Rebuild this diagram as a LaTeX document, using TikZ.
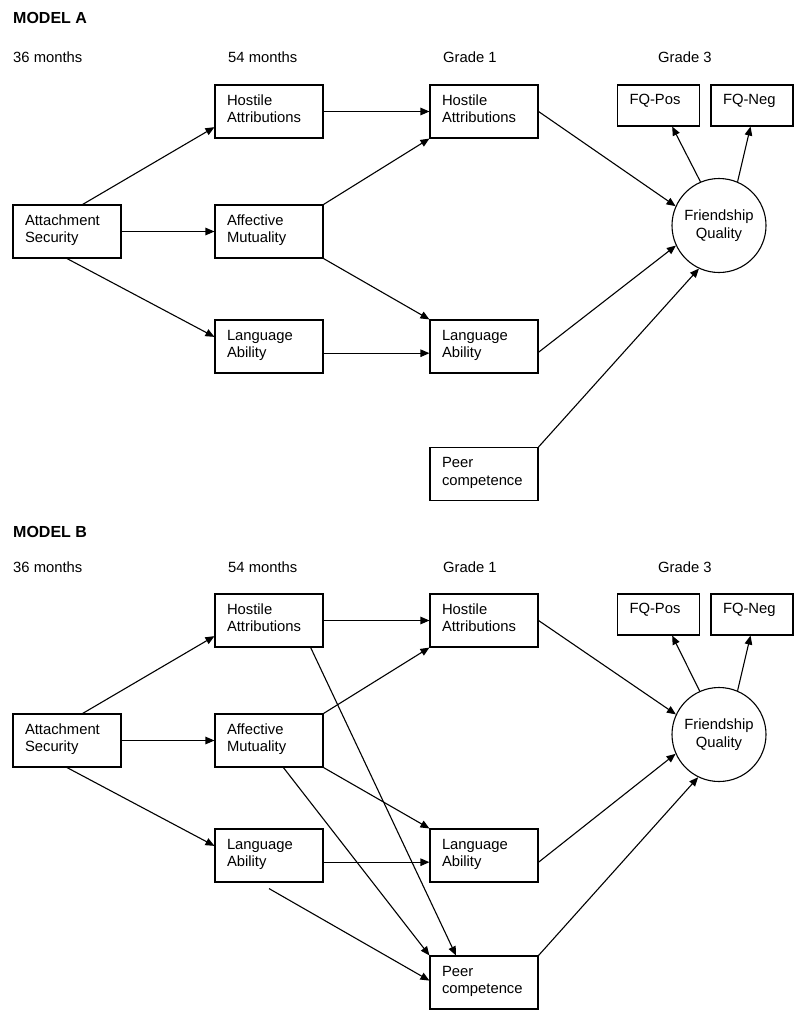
\documentclass[tikz,border=0pt]{standalone}
\usepackage{fontspec}
\setmainfont{Liberation Sans}
\usepackage{tikz}
\usetikzlibrary{arrows.meta,calc}

\begin{document}
\begin{tikzpicture}[x=1pt,y=-1pt]
    \tikzstyle{every node}+=[font=\fontsize{14.8}{17.5}\selectfont]
    \tikzstyle{hd}=[anchor=base west, inner sep=0pt]
    \tikzstyle{ttl}=[hd, font=\fontsize{16}{19}\selectfont\bfseries]
    \tikzstyle{box}=[draw, line width=1.1pt, minimum width=108pt, minimum height=53pt, text width=84pt, inner xsep=12pt, inner ysep=0pt, align=left, text height=11pt, text depth=23.5pt]
    \tikzstyle{fqbox}=[draw, line width=1.1pt, minimum width=82pt, minimum height=41pt, text width=58pt, inner xsep=12pt, inner ysep=0pt, align=left, text height=11pt, text depth=14pt]
    \tikzstyle{latent}=[draw, circle, line width=1.1pt, minimum size=94pt, inner sep=0pt, align=center]
    \tikzstyle{arr}=[-{Triangle[length=9pt,width=7.5pt]}, line width=1.1pt]
    \useasboundingbox (0,0) rectangle (800,1018);
    % model A
    \node [ttl] (tA) at (13,23) {MODEL A};
    \node [hd] (mA36) at (13,62) {36 months};
    \node [hd] (mA54) at (228,62) {54 months};
    \node [hd] (gA1) at (443,62) {Grade 1};
    \node [hd] (gA3) at (658,62) {Grade 3};
    \node [box] (as) at (67,231.5) {Attachment\\Security};
    \node [box] (ha54) at (269,111.5) {Hostile\\Attributions};
    \node [box] (am54) at (269,231.5) {Affective\\Mutuality};
    \node [box] (la54) at (269,346.5) {Language\\Ability};
    \node [box] (ha1) at (484,111.5) {Hostile\\Attributions};
    \node [box] (la1) at (484,346.5) {Language\\Ability};
    \node [box] (pc) at (484,474) {Peer\\competence};
    \node [latent] (fq) at (719,225.5) {Friendship\\Quality};
    \node [fqbox] (fqpos) at (658.5,105.5) {FQ-Pos};
    \node [fqbox] (fqneg) at (752,105.5) {FQ-Neg};
    \draw [arr] (as.60) -- (ha54.196);
    \draw [arr] (as.east) -- (am54.west);
    \draw [arr] (as.south) -- (la54.170);
    \draw [arr] (ha54.east) -- (ha1.west);
    \draw [arr] (am54.north east) -- (ha1.south west);
    \draw [arr] (am54.south east) -- (la1.north west);
    \draw [arr] (la54.-7) -- (la1.187);
    \draw [arr] (ha1.east) -- (fq.156);
    \draw [arr] (la1.-6) -- (fq.205);
    \draw [arr] (pc.north east) -- (fq.245);
    \draw [arr] (fq.113) -- (fqpos.-57);
    \draw [arr] (fq.67) -- (fqneg.-94);
    % model B
    \node [ttl] (tB) at (13,537) {MODEL B};
    \node [hd] (mB36) at (13,572) {36 months};
    \node [hd] (mB54) at (228,572) {54 months};
    \node [hd] (gB1) at (443,572) {Grade 1};
    \node [hd] (gB3) at (658,572) {Grade 3};
    \node [box] (asb) at (67,740.5) {Attachment\\Security};
    \node [box] (ha54b) at (269,620.5) {Hostile\\Attributions};
    \node [box] (am54b) at (269,740.5) {Affective\\Mutuality};
    \node [box] (la54b) at (269,855.5) {Language\\Ability};
    \node [box] (ha1b) at (484,620.5) {Hostile\\Attributions};
    \node [box] (la1b) at (484,855.5) {Language\\Ability};
    \node [box] (pcb) at (484,982.5) {Peer\\competence};
    \node [latent] (fqb) at (719,734.5) {Friendship\\Quality};
    \node [fqbox] (fqposb) at (658.5,614.5) {FQ-Pos};
    \node [fqbox] (fqnegb) at (752,614.5) {FQ-Neg};
    \coordinate (lagap) at ($(la54b.south)+(0,6)$);
    \draw [arr] (asb.60) -- (ha54b.196);
    \draw [arr] (asb.east) -- (am54b.west);
    \draw [arr] (asb.south) -- (la54b.170);
    \draw [arr] (ha54b.east) -- (ha1b.west);
    \draw [arr] (am54b.north east) -- (ha1b.south west);
    \draw [arr] (am54b.south east) -- (la1b.north west);
    \draw [arr] (la54b.-7) -- (la1b.187);
    \draw [arr] (ha54b.-33) -- (pcb.136);
    \draw [arr] (am54b.-62) -- (pcb.north west);
    \draw [arr] (lagap) -- (pcb.178);
    \draw [arr] (ha1b.east) -- (fqb.155);
    \draw [arr] (la1b.-7) -- (fqb.204);
    \draw [arr] (pcb.north east) -- (fqb.244);
    \draw [arr] (fqb.114) -- (fqposb.-57);
    \draw [arr] (fqb.67) -- (fqnegb.-94);
\end{tikzpicture}
\end{document}
